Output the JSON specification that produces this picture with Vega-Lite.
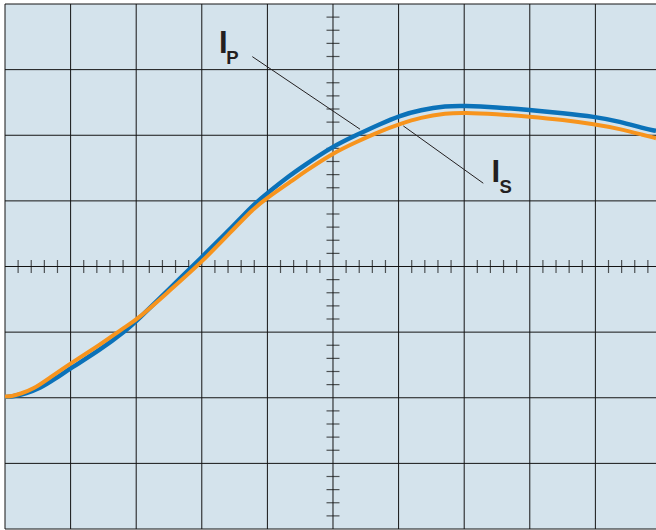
{
  "$schema": "https://vega.github.io/schema/vega-lite/v6.json",
  "width": 651,
  "height": 525,
  "autosize": {"type": "none"},
  "padding": {"left": 5, "top": 4, "right": 0, "bottom": 1},
  "background": "#ffffff",
  "config": {"view": {"fill": "#d4e3ec", "stroke": null}},
  "datasets": {
    "curves": [
      {"series": "IP", "t": 0, "v": -1.987},
      {"series": "IP", "t": 0.1, "v": -1.985},
      {"series": "IP", "t": 0.331, "v": -1.931},
      {"series": "IP", "t": 0.534, "v": -1.855},
      {"series": "IP", "t": 0.762, "v": -1.713},
      {"series": "IP", "t": 1.0, "v": -1.55},
      {"series": "IP", "t": 1.448, "v": -1.271},
      {"series": "IP", "t": 1.855, "v": -0.966},
      {"series": "IP", "t": 2.008, "v": -0.824},
      {"series": "IP", "t": 2.465, "v": -0.382},
      {"series": "IP", "t": 2.983, "v": 0.126},
      {"series": "IP", "t": 3.43, "v": 0.565},
      {"series": "IP", "t": 3.785, "v": 0.94},
      {"series": "IP", "t": 3.989, "v": 1.11},
      {"series": "IP", "t": 4.345, "v": 1.39},
      {"series": "IP", "t": 4.547, "v": 1.53},
      {"series": "IP", "t": 4.989, "v": 1.827},
      {"series": "IP", "t": 5.361, "v": 2.005},
      {"series": "IP", "t": 5.716, "v": 2.17},
      {"series": "IP", "t": 6.021, "v": 2.3},
      {"series": "IP", "t": 6.326, "v": 2.386},
      {"series": "IP", "t": 6.733, "v": 2.447},
      {"series": "IP", "t": 6.986, "v": 2.45},
      {"series": "IP", "t": 7.495, "v": 2.427},
      {"series": "IP", "t": 7.988, "v": 2.386},
      {"series": "IP", "t": 8.511, "v": 2.336},
      {"series": "IP", "t": 8.983, "v": 2.284},
      {"series": "IP", "t": 9.375, "v": 2.208},
      {"series": "IP", "t": 9.73, "v": 2.107},
      {"series": "IP", "t": 9.924, "v": 2.066},
      {"series": "IS", "t": 0, "v": -1.982},
      {"series": "IS", "t": 0.1, "v": -1.978},
      {"series": "IS", "t": 0.229, "v": -1.941},
      {"series": "IS", "t": 0.431, "v": -1.87},
      {"series": "IS", "t": 0.686, "v": -1.692},
      {"series": "IS", "t": 1.0, "v": -1.474},
      {"series": "IS", "t": 1.448, "v": -1.195},
      {"series": "IS", "t": 1.799, "v": -0.94},
      {"series": "IS", "t": 2.008, "v": -0.814},
      {"series": "IS", "t": 2.465, "v": -0.407},
      {"series": "IS", "t": 2.983, "v": 0.05},
      {"series": "IS", "t": 3.43, "v": 0.512},
      {"series": "IS", "t": 3.785, "v": 0.88},
      {"series": "IS", "t": 3.989, "v": 1.041},
      {"series": "IS", "t": 4.395, "v": 1.32},
      {"series": "IS", "t": 4.547, "v": 1.43},
      {"series": "IS", "t": 4.989, "v": 1.724},
      {"series": "IS", "t": 5.361, "v": 1.9},
      {"series": "IS", "t": 5.716, "v": 2.06},
      {"series": "IS", "t": 6.021, "v": 2.17},
      {"series": "IS", "t": 6.326, "v": 2.27},
      {"series": "IS", "t": 6.733, "v": 2.336},
      {"series": "IS", "t": 6.986, "v": 2.345},
      {"series": "IS", "t": 7.495, "v": 2.321},
      {"series": "IS", "t": 7.988, "v": 2.284},
      {"series": "IS", "t": 8.511, "v": 2.234},
      {"series": "IS", "t": 8.983, "v": 2.168},
      {"series": "IS", "t": 9.375, "v": 2.097},
      {"series": "IS", "t": 9.73, "v": 2.005},
      {"series": "IS", "t": 9.924, "v": 1.955}
    ],
    "gridX": [{"t": 0}, {"t": 1}, {"t": 2}, {"t": 3}, {"t": 4}, {"t": 5}, {"t": 6}, {"t": 7}, {"t": 8}, {"t": 9}],
    "gridY": [{"v": -4}, {"v": -3}, {"v": -2}, {"v": -1}, {"v": 0}, {"v": 1}, {"v": 2}, {"v": 3}, {"v": 4}],
    "ticksH": [
      {"t": 0.2, "v": 0}, {"t": 0.4, "v": 0}, {"t": 0.6, "v": 0}, {"t": 0.8, "v": 0},
      {"t": 1.2, "v": 0}, {"t": 1.4, "v": 0}, {"t": 1.6, "v": 0}, {"t": 1.8, "v": 0},
      {"t": 2.2, "v": 0}, {"t": 2.4, "v": 0}, {"t": 2.6, "v": 0}, {"t": 2.8, "v": 0},
      {"t": 3.2, "v": 0}, {"t": 3.4, "v": 0}, {"t": 3.6, "v": 0}, {"t": 3.8, "v": 0},
      {"t": 4.2, "v": 0}, {"t": 4.4, "v": 0}, {"t": 4.6, "v": 0}, {"t": 4.8, "v": 0},
      {"t": 5.2, "v": 0}, {"t": 5.4, "v": 0}, {"t": 5.6, "v": 0}, {"t": 5.8, "v": 0},
      {"t": 6.2, "v": 0}, {"t": 6.4, "v": 0}, {"t": 6.6, "v": 0}, {"t": 6.8, "v": 0},
      {"t": 7.2, "v": 0}, {"t": 7.4, "v": 0}, {"t": 7.6, "v": 0}, {"t": 7.8, "v": 0},
      {"t": 8.2, "v": 0}, {"t": 8.4, "v": 0}, {"t": 8.6, "v": 0}, {"t": 8.8, "v": 0},
      {"t": 9.2, "v": 0}, {"t": 9.4, "v": 0}, {"t": 9.6, "v": 0}, {"t": 9.8, "v": 0}
    ],
    "ticksV": [
      {"t": 5, "v": -3.8}, {"t": 5, "v": -3.6}, {"t": 5, "v": -3.4}, {"t": 5, "v": -3.2},
      {"t": 5, "v": -2.8}, {"t": 5, "v": -2.6}, {"t": 5, "v": -2.4}, {"t": 5, "v": -2.2},
      {"t": 5, "v": -1.8}, {"t": 5, "v": -1.6}, {"t": 5, "v": -1.4}, {"t": 5, "v": -1.2},
      {"t": 5, "v": -0.8}, {"t": 5, "v": -0.6}, {"t": 5, "v": -0.4}, {"t": 5, "v": -0.2},
      {"t": 5, "v": 0.2}, {"t": 5, "v": 0.4}, {"t": 5, "v": 0.6}, {"t": 5, "v": 0.8},
      {"t": 5, "v": 1.2}, {"t": 5, "v": 1.4}, {"t": 5, "v": 1.6}, {"t": 5, "v": 1.8},
      {"t": 5, "v": 2.2}, {"t": 5, "v": 2.4}, {"t": 5, "v": 2.6}, {"t": 5, "v": 2.8},
      {"t": 5, "v": 3.2}, {"t": 5, "v": 3.4}, {"t": 5, "v": 3.6}, {"t": 5, "v": 3.8}
    ],
    "leaders": [
      {"t": 3.77, "v": 3.198, "t2": 5.412, "v2": 2.092},
      {"t": 6.072, "v": 2.142, "t2": 7.291, "v2": 1.269}
    ],
    "letters": [
      {"t": 3.328, "v": 3.25, "txt": "I"},
      {"t": 7.482, "v": 1.285, "txt": "I"}
    ],
    "subs": [
      {"t": 3.374, "v": 3.087, "txt": "P"},
      {"t": 7.537, "v": 1.126, "txt": "S"}
    ]
  },
  "layer": [
    {
      "data": {"name": "gridX"},
      "mark": {"type": "rule", "color": "#141414", "strokeWidth": 1},
      "encoding": {
        "x": {"field": "t", "type": "quantitative", "scale": {"domain": [0, 9.924], "nice": false, "zero": false}, "axis": null}
      }
    },
    {
      "data": {"name": "gridY"},
      "mark": {"type": "rule", "color": "#141414", "strokeWidth": 1},
      "encoding": {
        "y": {"field": "v", "type": "quantitative", "scale": {"domain": [-4, 4], "nice": false, "zero": false}, "axis": null}
      }
    },
    {
      "data": {"name": "ticksH"},
      "mark": {"type": "tick", "orient": "vertical", "color": "#141414", "size": 13, "thickness": 1.2},
      "encoding": {
        "x": {"field": "t", "type": "quantitative", "axis": null},
        "y": {"field": "v", "type": "quantitative", "axis": null}
      }
    },
    {
      "data": {"name": "ticksV"},
      "mark": {"type": "tick", "orient": "horizontal", "color": "#141414", "size": 13, "thickness": 1.2},
      "encoding": {
        "x": {"field": "t", "type": "quantitative", "axis": null},
        "y": {"field": "v", "type": "quantitative", "axis": null}
      }
    },
    {
      "data": {"name": "leaders"},
      "mark": {"type": "rule", "color": "#231f20", "strokeWidth": 1},
      "encoding": {
        "x": {"field": "t", "type": "quantitative", "axis": null},
        "y": {"field": "v", "type": "quantitative", "axis": null},
        "x2": {"field": "t2"},
        "y2": {"field": "v2"}
      }
    },
    {
      "data": {"name": "curves"},
      "transform": [{"filter": "datum.series === 'IP'"}],
      "mark": {"type": "line", "color": "#0b72b9", "strokeWidth": 4.5, "interpolate": "basis", "clip": true},
      "encoding": {
        "x": {"field": "t", "type": "quantitative", "axis": null},
        "y": {"field": "v", "type": "quantitative", "axis": null}
      }
    },
    {
      "data": {"name": "curves"},
      "transform": [{"filter": "datum.series === 'IS'"}],
      "mark": {"type": "line", "color": "#f7941d", "strokeWidth": 4, "interpolate": "basis", "clip": true},
      "encoding": {
        "x": {"field": "t", "type": "quantitative", "axis": null},
        "y": {"field": "v", "type": "quantitative", "axis": null}
      }
    },
    {
      "data": {"name": "letters"},
      "mark": {"type": "text", "font": "Liberation Sans", "fontWeight": "bold", "fontSize": 31, "align": "center", "baseline": "alphabetic", "color": "#231f20"},
      "encoding": {
        "x": {"field": "t", "type": "quantitative", "axis": null},
        "y": {"field": "v", "type": "quantitative", "axis": null},
        "text": {"field": "txt"}
      }
    },
    {
      "data": {"name": "subs"},
      "mark": {"type": "text", "font": "Liberation Sans", "fontWeight": "bold", "fontSize": 18.5, "align": "left", "baseline": "alphabetic", "color": "#231f20"},
      "encoding": {
        "x": {"field": "t", "type": "quantitative", "axis": null},
        "y": {"field": "v", "type": "quantitative", "axis": null},
        "text": {"field": "txt"}
      }
    }
  ]
}
